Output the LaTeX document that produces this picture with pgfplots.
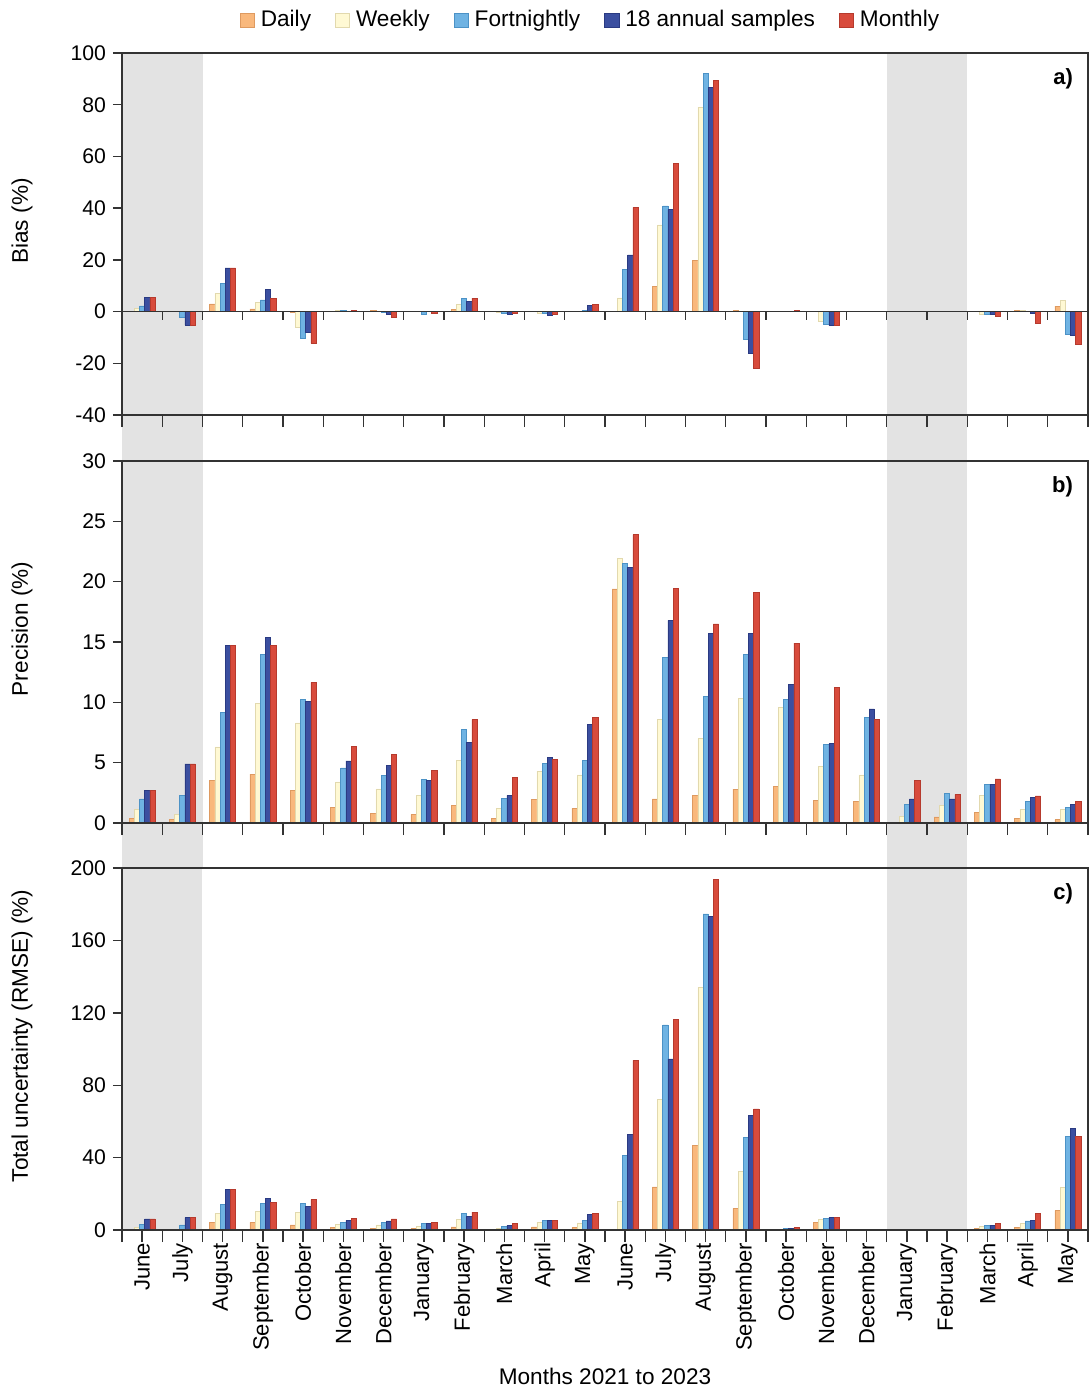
\documentclass[border=0pt]{standalone}
\usepackage{fontspec}
\setmainfont{Liberation Sans}
\usepackage{pgfplots}
\usepackage{pgfplotstable}
\pgfplotsset{compat=1.18}

\definecolor{cD}{HTML}{F9B87C}\definecolor{cDe}{HTML}{DE9A60}
\definecolor{cW}{HTML}{FFF9D4}\definecolor{cWe}{HTML}{E2D9AE}
\definecolor{cF}{HTML}{6FB3E3}\definecolor{cFe}{HTML}{4C92C6}
\definecolor{cA}{HTML}{3B4FA0}\definecolor{cAe}{HTML}{2A3A82}
\definecolor{cM}{HTML}{D84B3C}\definecolor{cMe}{HTML}{B63A2D}
\definecolor{bggray}{HTML}{E3E3E3}

% Bias (%)
\pgfplotstableread{
x d w f a m
0 0 1.2 2.2 5.4 5.4
1 0 0 -2.1 -5.2 -5.2
2 3.0 7.0 10.8 16.9 16.9
3 1.0 3.5 4.5 8.5 5.0
4 -0.3 -6.2 -10.5 -8.1 -12.3
5 0.2 0.4 0.5 0.2 0.5
6 0.3 0.2 -0.2 -1.2 -2.2
7 0.1 0.2 -1.2 0 -0.5
8 0.8 2.7 5.0 4.0 5.2
9 0 -0.3 -0.7 -0.9 -0.5
10 0 -0.5 -0.8 -1.3 -1.2
11 0 0.2 0.4 2.3 2.7
12 0 5.3 16.4 21.9 40.3
13 9.8 33.5 40.9 39.4 57.3
14 19.9 79.1 92.0 86.7 89.3
15 0.3 0 -10.6 -16.1 -21.8
16 0 0 0 0.2 0.3
17 0 -3.9 -4.9 -5.4 -5.2
18 0 0.1 0.2 0.2 0.2
19 0 0 0 0 0
20 0 0 0.2 0.2 0.2
21 0.1 -1.0 -1.0 -1.2 -1.8
22 0.3 0.4 0 -0.8 -4.5
23 2.1 4.3 -8.6 -9.0 -12.6
}\tabA

% Precision (%)
\pgfplotstableread{
x d w f a m
0 0.41 1.16 2.0 2.73 2.73
1 0.28 0.72 2.27 4.9 4.9
2 3.5 6.3 9.17 14.7 14.7
3 4.06 9.94 14.0 15.4 14.7
4 2.68 8.29 10.25 10.06 11.66
5 1.3 3.4 4.56 5.14 6.33
6 0.8 2.82 3.92 4.8 5.69
7 0.72 2.27 3.62 3.5 4.39
8 1.49 5.17 7.79 6.66 8.56
9 0.36 1.22 2.04 2.29 3.76
10 1.96 4.31 4.97 5.41 5.25
11 1.22 3.98 5.22 8.18 8.73
12 19.4 21.9 21.5 21.2 23.9
13 2.0 8.56 13.7 16.8 19.45
14 2.3 7.0 10.5 15.7 16.5
15 2.8 10.3 14.0 15.7 19.1
16 3.04 9.56 10.25 11.5 14.9
17 1.9 4.7 6.5 6.57 11.27
18 1.82 3.98 8.73 9.45 8.6
19 0 0.55 1.57 2.0 3.54
20 0.5 1.46 2.46 2.0 2.38
21 0.88 2.29 3.18 3.2 3.65
22 0.41 1.13 1.77 2.15 2.24
23 0.28 1.1 1.3 1.52 1.77
}\tabB

% Total uncertainty (RMSE) (%)
\pgfplotstableread{
x d w f a m
0 0.3 1.3 2.9 6.1 6.1
1 0 0.3 2.8 6.8 6.8
2 4.2 9.2 14.2 22.3 22.3
3 4.2 10.5 14.7 17.5 15.3
4 2.8 9.9 14.5 12.9 16.8
5 1.3 3.3 4.4 5.3 6.3
6 1.1 2.8 4.1 5.0 6.1
7 0.9 2.2 3.7 3.5 4.4
8 1.7 5.7 9.0 7.6 9.9
9 0.4 0.9 2.2 2.6 3.7
10 1.7 4.4 5.2 5.5 5.3
11 1.3 3.9 5.3 8.5 9.0
12 0 15.8 41.1 52.9 93.7
13 23.8 72.2 113.3 94.5 116.4
14 46.6 134.1 174.6 173.3 193.9
15 12.0 32.6 51.2 63.5 66.9
16 0 0.5 0.9 1.1 1.3
17 4.2 5.9 6.4 7.0 7.0
18 0 0.2 0.4 0.5 0.5
19 0 0 0 0 0
20 0 0 0.3 0.3 0.3
21 0.7 2.0 2.4 2.6 3.5
22 1.5 3.5 5.0 5.2 9.4
23 10.7 23.6 51.9 56.0 51.9
}\tabC

\pgfplotsset{
  panel/.style={
    scale only axis, width=483pt, height=181pt,
    xmin=-0.5, xmax=23.5,
    xtick={-0.5,0.5,...,23.5}, xticklabels={},
    tick pos=left, tick align=outside,
    major tick length=4.5pt,
    xtick style={/pgfplots/major tick length=6pt},
    axis on top, clip=false,
    axis line style={line width=0.7pt, black!80},
    every tick/.style={line width=0.7pt, black!80},
    tick label style={font=\fontsize{10.6}{12}\selectfont},
    ylabel style={font=\fontsize{11.3}{13}\selectfont, at={(axis description cs:-0.1035,0.536)}, anchor=center},
    ybar, bar width=2.6pt,
  },
  sD/.style={fill=cD, draw=cDe, line width=0.3pt, bar shift=-5.2pt},
  sW/.style={fill=cW, draw=cWe, line width=0.3pt, bar shift=-2.6pt},
  sF/.style={fill=cF, draw=cFe, line width=0.3pt, bar shift=0pt},
  sA/.style={fill=cA, draw=cAe, line width=0.3pt, bar shift=2.6pt},
  sM/.style={fill=cM, draw=cMe, line width=0.3pt, bar shift=5.2pt},
}
\tikzset{plabel/.style={anchor=north east, font=\bfseries\fontsize{11}{13}\selectfont, xshift=-4pt, yshift=-4pt}}

\begin{document}
\begin{tikzpicture}
\path[use as bounding box] (-61pt,26.5pt) rectangle (483.5pt,-668.5pt);

% ---------- a) Bias ----------
\begin{axis}[panel, at={(0,0)}, anchor=north west,
  ymin=-40, ymax=100, ytick={-40,-20,0,20,40,60,80,100},
  yticklabels={-40,-20,0,20,40,60,80,100},
  ylabel={Bias (\%)},
  legend columns=5,
  legend style={draw=none, fill=none, at={(axis description cs:0.486,1.091)}, anchor=center,
    font=\fontsize{11.3}{13}\selectfont,
    /tikz/every even column/.append style={column sep=10pt},
    /tikz/every odd column/.append style={column sep=1pt}},
  legend image code/.code={\draw[#1, line width=0.3pt] (0pt,-3.6pt) rectangle (7.2pt,3.6pt);},
]
\fill[bggray] (axis cs:-0.5,100) rectangle ([yshift=-23pt]axis cs:1.5,-40);
\fill[bggray] (axis cs:18.5,100) rectangle ([yshift=-23pt]axis cs:20.5,-40);
\addplot[sD] table[x=x,y=d]{\tabA};
\addplot[sW] table[x=x,y=w]{\tabA};
\addplot[sF] table[x=x,y=f]{\tabA};
\addplot[sA] table[x=x,y=a]{\tabA};
\addplot[sM] table[x=x,y=m]{\tabA};
\legend{Daily,Weekly,Fortnightly,18 annual samples\hspace{22pt},Monthly}
\draw[line width=0.7pt, black!80] (axis cs:-0.5,0) -- (axis cs:23.5,0);
\coordinate (zeroL) at (axis cs:-0.5,0);
\node[plabel] at (rel axis cs:1,1) {a)};
\end{axis}
\foreach \i in {1,...,23} {\draw[line width=0.7pt, black!80] ([xshift=\i*20.125pt]zeroL) -- ++(0pt,-4pt);}

% ---------- b) Precision ----------
\begin{axis}[panel, at={(0,-204pt)}, anchor=north west,
  ymin=0, ymax=30, ytick={0,5,10,15,20,25,30},
  yticklabels={0,5,10,15,20,25,30},
  ylabel={Precision (\%)},
]
\fill[bggray] (axis cs:-0.5,30) rectangle ([yshift=-22.5pt]axis cs:1.5,0);
\fill[bggray] (axis cs:18.5,30) rectangle ([yshift=-22.5pt]axis cs:20.5,0);
\addplot[sD] table[x=x,y=d]{\tabB};
\addplot[sW] table[x=x,y=w]{\tabB};
\addplot[sF] table[x=x,y=f]{\tabB};
\addplot[sA] table[x=x,y=a]{\tabB};
\addplot[sM] table[x=x,y=m]{\tabB};
\node[plabel] at (rel axis cs:1,1) {b)};
\end{axis}

% ---------- c) RMSE ----------
\begin{axis}[panel, at={(0,-407.5pt)}, anchor=north west,
  ymin=0, ymax=200, ytick={0,40,80,120,160,200},
  yticklabels={0,40,80,120,160,200},
  ylabel={Total uncertainty (RMSE) (\%)},
  extra x ticks={0,...,23},
  extra x tick labels={June,July,August,September,October,November,December,January,February,March,April,May,June,July,August,September,October,November,December,January,February,March,April,May},
  extra x tick style={major tick length=0pt, tick label style={font=\fontsize{11}{13}\selectfont, yshift=-3pt, rotate=90, anchor=east}},
  xlabel={Months 2021 to 2023},
  xlabel style={font=\fontsize{11.3}{13}\selectfont, at={(axis description cs:0.5,-0.405)}, anchor=center},
]
\fill[bggray] (axis cs:-0.5,200) rectangle (axis cs:1.5,0);
\fill[bggray] (axis cs:18.5,200) rectangle (axis cs:20.5,0);
\addplot[sD] table[x=x,y=d]{\tabC};
\addplot[sW] table[x=x,y=w]{\tabC};
\addplot[sF] table[x=x,y=f]{\tabC};
\addplot[sA] table[x=x,y=a]{\tabC};
\addplot[sM] table[x=x,y=m]{\tabC};
\node[plabel] at (rel axis cs:1,1) {c)};
\end{axis}
\end{tikzpicture}
\end{document}
